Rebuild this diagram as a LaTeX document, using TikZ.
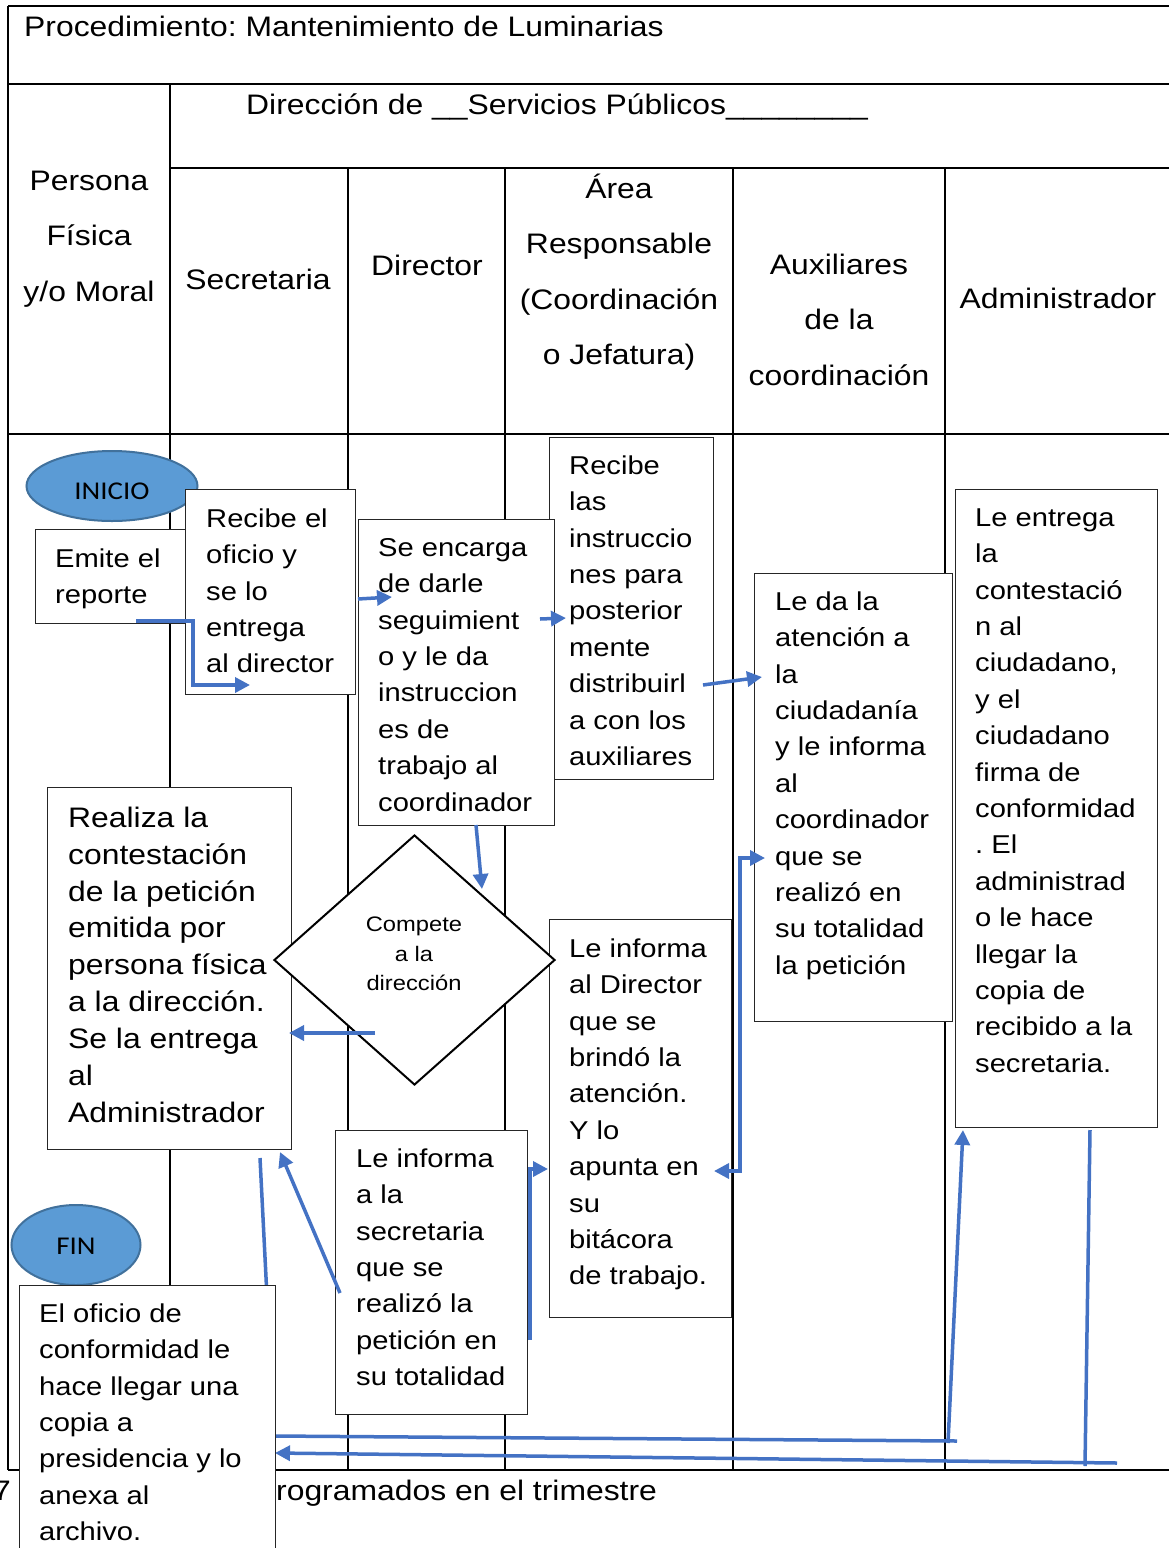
\documentclass[tikz,border=0pt]{standalone}
\usepackage{fontspec}
\setmainfont{Liberation Sans}[FakeStretch=1.13]
\newfontfamily\termfont{Carlito}[FakeStretch=1.13]
\usetikzlibrary{shapes.geometric,arrows.meta}
\definecolor{flowblue}{HTML}{4472C4}
\definecolor{termfill}{HTML}{5B9BD5}
\definecolor{termedge}{HTML}{41719C}
\frenchspacing
\newcommand\fstitle{\fontsize{28.2}{36.9}\selectfont}
\newcommand\fshead{\fontsize{28.2}{55.4}\selectfont}
\newcommand\fsbody{\fontsize{25.8}{36.4}\selectfont}
\newcommand\fsbig{\fontsize{28.2}{36.9}\selectfont}
\newcommand\fsdia{\fontsize{21}{29.5}\selectfont}
\newcommand\fsterm{\termfont\fontsize{25.6}{30}\selectfont}
\makeatletter
\newcommand\tstrut{\rule{0pt}{\f@size pt}}
\makeatother
\begin{document}
\begin{tikzpicture}[x=1pt,y=-1pt,
  lanes/.style={draw=black,line width=2pt},
  procbox/.style={draw=black!85,line width=1.3pt,fill=white,inner sep=0pt,anchor=north west},
  txt/.style={inner sep=0pt,anchor=north west,align=left,font=\fsbody},
  lanehead/.style={inner sep=0pt,align=center,font=\fshead},
  term/.style={ellipse,draw=termedge,fill=termfill,line width=2pt,inner sep=0pt},
  termtxt/.style={inner sep=0pt,font=\fsterm},
  link/.style={draw=flowblue,line width=3.5pt,-{Triangle[length=15pt,width=15pt]}},
  plainlink/.style={draw=flowblue,line width=3.5pt},
]
\useasboundingbox (0,0) rectangle (1169,1548);
\clip (0,0) rectangle (1169,1548);
\fill[white] (0,0) rectangle (1169,1548);

% table frame and swimlanes
\draw[lanes] (8,6) -- (1169,6);
\draw[lanes] (8,84) -- (1169,84);
\draw[lanes] (170,168) -- (1169,168);
\draw[lanes] (8,434) -- (1169,434);
\draw[lanes] (8,1470) -- (1169,1470);
\draw[lanes] (8,6) -- (8,1470);
\draw[lanes] (170,84) -- (170,1470);
\foreach \cx in {348,505,733,945} \draw[lanes] (\cx,168) -- (\cx,1470);

% headings
\node[anchor=base west,font=\fstitle,inner sep=0pt] (title) at (24,36) {Procedimiento: Mantenimiento de Luminarias};
\node[anchor=base west,font=\fstitle,inner sep=0pt] (direccion) at (246,114) {Dirección de \_\_Servicios Públicos\_\_\_\_\_\_\_\_};
\node[lanehead,anchor=north] (hpersona) at (89,161.8) {\tstrut Persona\\Física\\y/o Moral};
\node[lanehead,anchor=base] (hsecretaria) at (258,289) {Secretaria};
\node[lanehead,anchor=base] (hdirector) at (427,275) {Director};
\node[lanehead,anchor=north] (harea) at (619,169.8) {\tstrut Área\\Responsable\\(Coordinación\\o Jefatura)};
\node[lanehead,anchor=north] (hauxiliares) at (839,245.8) {\tstrut Auxiliares\\de la\\coordinación};
\node[lanehead,anchor=base] (hadministrador) at (1058,308) {Administrador};

% start
\node[term,minimum width=171pt,minimum height=70pt] (inicio) at (112,486) {};
\node[termtxt] (inicio-t) at (112,491.5) {INICIO};

% process boxes
\node[procbox,minimum width=155pt,minimum height=94pt] (emite) at (35,529) {};
\node[txt] (emite-t) at (55,541.2) {\tstrut Emite el\\reporte};

\node[procbox,minimum width=170pt,minimum height=205pt] (recibe) at (185,489) {};
\node[txt] (recibe-t) at (206,501.2) {\tstrut Recibe el\\oficio y\\se lo\\entrega\\al director};

\node[procbox,minimum width=164pt,minimum height=342pt] (recibelas) at (549,437) {};
\node[txt] (recibelas-t) at (569,448.2) {\tstrut Recibe\\las\\instruccio\\nes para\\posterior\\mente\\distribuirl\\a con los\\auxiliares};

\node[procbox,minimum width=196pt,minimum height=306pt] (encarga) at (358,519) {};
\node[txt] (encarga-t) at (378,530.2) {\tstrut Se encarga\\de darle\\seguimient\\o y le da\\instruccion\\es de\\trabajo al\\coordinador};

\node[procbox,minimum width=198pt,minimum height=448pt] (leda) at (754,573) {};
\node[txt] (leda-t) at (775,584.2) {\tstrut Le da la\\atención a\\la\\ciudadanía\\y le informa\\al\\coordinador\\que se\\realizó en\\su totalidad\\la petición};

\node[procbox,minimum width=202pt,minimum height=638pt] (admin) at (955,489) {};
\node[txt] (admin-t) at (975,500.2) {\tstrut Le entrega\\la\\contestació\\n al\\ciudadano,\\y el\\ciudadano\\firma de\\conformidad\\. El\\administrad\\o le hace\\llegar la\\copia de\\recibido a la\\secretaria.};

\node[procbox,minimum width=244pt,minimum height=362pt] (realiza) at (47,787) {};
\node[txt,font=\fsbig] (realiza-t) at (68,798.8) {\tstrut Realiza la\\contestación\\de la petición\\emitida por\\persona física\\a la dirección.\\Se la entrega\\al\\Administrador};

\node[procbox,minimum width=182pt,minimum height=398pt] (informadir) at (549,919) {};
\node[txt] (informadir-t) at (569,931.2) {\tstrut Le informa\\al Director\\que se\\brindó la\\atención.\\Y lo\\apunta en\\su\\bitácora\\de trabajo.};

% decision
\node[diamond,draw=black,line width=2pt,fill=white,minimum width=281pt,minimum height=250pt,inner sep=0pt] (compete) at (414.5,960) {};
\node[inner sep=0pt,align=center,font=\fsdia,anchor=north] (compete-t) at (414,910.5) {\tstrut Compete\\a la\\dirección};

\node[procbox,minimum width=192pt,minimum height=284pt] (informasec) at (335,1130) {};
\node[txt] (informasec-t) at (356,1141.2) {\tstrut Le informa\\a la\\secretaria\\que se\\realizó la\\petición en\\su totalidad};

% end
\node[term,minimum width=129pt,minimum height=80pt] (fin) at (76,1245) {};
\node[termtxt] (fin-t) at (76,1246) {FIN};

% connector points
\coordinate (a1) at (136,621);
\coordinate (a2) at (193,621);
\coordinate (a3) at (193,685);
\coordinate (a4) at (250,685);
\coordinate (b1) at (358,599);
\coordinate (b2) at (392,597);
\coordinate (c1) at (540,619);
\coordinate (c2) at (566,618);
\coordinate (d1) at (703,685);
\coordinate (d2) at (762,677);
\coordinate (e1) at (476,825);
\coordinate (e2) at (482,889);
\coordinate (f1) at (375,1033);
\coordinate (f2) at (289,1033);
\coordinate (g1) at (765,858);
\coordinate (g2) at (740,858);
\coordinate (g3) at (740,1171);
\coordinate (g4) at (714,1171);
\coordinate (h1) at (530,1340);
\coordinate (h2) at (530,1169);
\coordinate (h3) at (548,1169);
\coordinate (i1) at (340,1293);
\coordinate (i2) at (280,1152);
\coordinate (j1) at (260,1158);
\coordinate (j2) at (274,1436);
\coordinate (j3) at (957,1441);
\coordinate (k1) at (948,1443);
\coordinate (k2) at (963,1130);
\coordinate (l1) at (1090,1130);
\coordinate (l2) at (1085,1466);
\coordinate (m1) at (1117,1463);
\coordinate (m2) at (275,1453);

% connectors
\draw[link] (a1) -- (a2) -- (a3) -- (a4);
\draw[link] (b1) -- (b2);
\draw[link] (c1) -- (c2);
\draw[link] (d1) -- (d2);
\draw[link] (e1) -- (e2);
\draw[link] (f1) -- (f2);
\draw[link,{Triangle[length=15pt,width=15pt]}-{Triangle[length=15pt,width=15pt]}] (g1) -- (g2) -- (g3) -- (g4);
\draw[link] (h1) -- (h2) -- (h3);
\draw[link] (i1) -- (i2);
\draw[plainlink] (j1) -- (j2) -- (j3);
\draw[link] (k1) -- (k2);
\draw[plainlink] (l1) -- (l2);
\draw[link] (m1) -- (m2);

% closing step
\node[procbox,minimum width=256pt,minimum height=300pt] (oficio) at (19,1285) {};
\node[txt] (oficio-t) at (39,1296.2) {\tstrut El oficio de\\conformidad le\\hace llegar una\\copia a\\presidencia y lo\\anexa al\\archivo.};

% footer line
\node[anchor=base east,font=\fstitle,inner sep=0pt] (footnum) at (11,1500) {7};
\node[anchor=base west,font=\fstitle,inner sep=0pt] (foottext) at (276,1500) {rogramados en el trimestre};
\end{tikzpicture}
\end{document}
